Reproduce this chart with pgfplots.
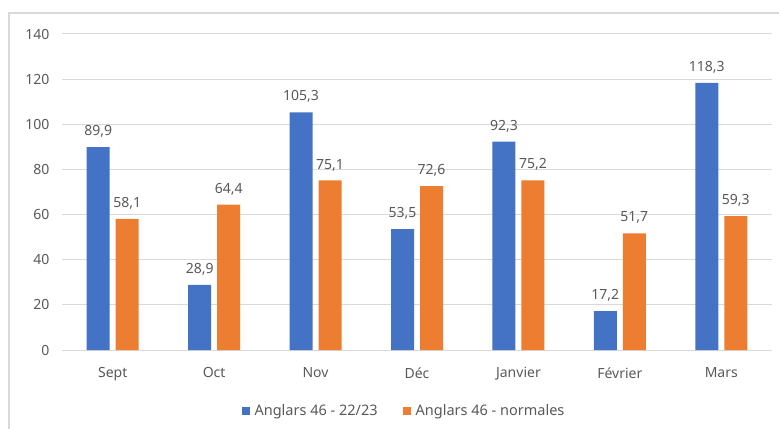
\documentclass[border=0pt]{standalone}
\usepackage{pgfplots}
\pgfplotsset{compat=1.18}
\usepackage{fontspec}
\setmainfont{Noto Sans}
\definecolor{cblue}{HTML}{4472C4}
\definecolor{corange}{HTML}{ED7D31}
\definecolor{gridc}{HTML}{D9D9D9}
\definecolor{txt}{HTML}{595959}
\begin{document}
\begin{tikzpicture}[x=1bp,y=1bp]
\useasboundingbox (0,0) rectangle (779,428);
\draw[color=gridc, line width=1.5bp] (9,-5) -- (9,415) -- (790,415);
\begin{axis}[
  at={(62bp,78bp)}, anchor=south west,
  scale only axis, width=710bp, height=316bp,
  xmin=-0.5, xmax=6.5, ymin=0, ymax=140,
  ytick={0,20,...,140},
  xtick={0,...,6},
  xticklabels={Sept,Oct,Nov,Déc,Janvier,Février,Mars},
  axis line style={draw=none},
  major tick length=0pt,
  ymajorgrids, grid style={color=gridc, line width=1bp},
  ybar=6bp, bar width=23bp,
  tick label style={font=\fontsize{14bp}{17bp}\selectfont, text=txt},
  yticklabel style={xshift=-9bp},
  xticklabel style={yshift=-14bp},
  /pgf/number format/assume math mode=true,
  nodes near coords,
  nodes near coords style={font=\fontsize{14bp}{17bp}\selectfont, text=txt, yshift=6bp,
    /pgf/number format/.cd, use comma, fixed, fixed zerofill, precision=1},
  legend columns=2,
  legend style={draw=none, fill=none, at={(0.4817,-0.1930)}, anchor=center,
    font=\fontsize{14.5bp}{17bp}\selectfont, text=txt,
    /tikz/every even column/.append style={column sep=23bp},
    inner sep=0pt},
  legend image code/.code={\fill[#1] (0bp,-4bp) rectangle (8bp,4bp); \path (11bp,0bp);},
  clip=false,
]
\addplot[fill=cblue, draw=none] coordinates {(0,89.9) (1,28.9) (2,105.3) (3,53.5) (4,92.3) (5,17.2) (6,118.3)};
\addplot[fill=corange, draw=none] coordinates {(0,58.1) (1,64.4) (2,75.1) (3,72.6) (4,75.2) (5,51.7) (6,59.3)};
\legend{Anglars 46 - 22/23, Anglars 46 - normales}
\end{axis}
\end{tikzpicture}
\end{document}
